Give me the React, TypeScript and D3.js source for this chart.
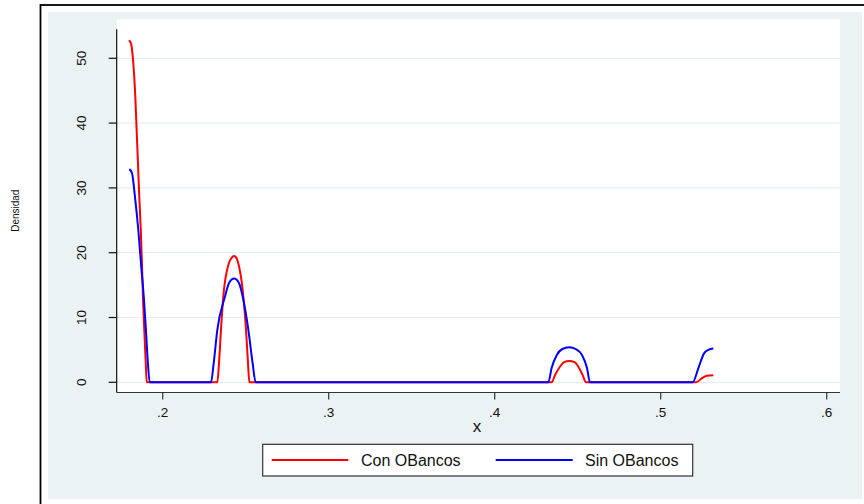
import React from "react";
import * as d3 from "d3";

const xTicks = [0.2, 0.3, 0.4, 0.5, 0.6];
const xTickLabels = [".2", ".3", ".4", ".5", ".6"];
const yTicks = [0, 10, 20, 30, 40, 50];
const seriesNames = ["Con OBancos", "Sin OBancos"];
const seriesColors = ["#ff0000", "#0000ff"];

const conX = [0.1797, 0.1809, 0.1823, 0.1835, 0.1843, 0.1851, 0.1859, 0.1868, 0.1875, 0.1881, 0.1889, 0.1898, 0.1904,
  0.2329, 0.2339, 0.2351, 0.2365, 0.2399, 0.2415, 0.2430, 0.2444, 0.2455, 0.2486, 0.2502, 0.2514, 0.2522,
  0.4343, 0.4363, 0.4393, 0.4418, 0.4449, 0.4481, 0.4504, 0.4530, 0.4550,
  0.5213, 0.5247, 0.5277, 0.5317];
const conY = [52.8, 52.3, 49.2, 44.1, 38.9, 33.8, 28.6, 23.5, 18.4, 13.2, 8.1, 2.9, 0,
  0, 2.9, 8.1, 13.2, 18.4, 19.2, 19.5, 19.2, 18.4, 13.2, 8.1, 2.9, 0,
  0, 1.1, 2.4, 3.1, 3.3, 3.1, 2.4, 1.1, 0,
  0, 0.6, 1.0, 1.1];

const sinX = [0.1799, 0.1815, 0.1833, 0.1853, 0.1869, 0.1886, 0.1899, 0.1911, 0.1922,
  0.2291, 0.2307, 0.2329, 0.2375, 0.2399, 0.2430, 0.2460, 0.2482, 0.2516, 0.2542, 0.2560,
  0.4323, 0.4343, 0.4374, 0.4405, 0.4449, 0.4490, 0.4526, 0.4556, 0.4574,
  0.5193, 0.5227, 0.5262, 0.5287, 0.5317];
const sinY = [32.9, 32.3, 28.6, 23.5, 18.4, 13.2, 8.1, 2.9, 0,
  0, 2.9, 8.1, 13.2, 15.3, 16.0, 15.3, 13.2, 8.1, 2.9, 0,
  0, 2.2, 4.2, 5.1, 5.4, 5.1, 4.2, 2.2, 0,
  0, 2.2, 4.5, 5.0, 5.2];

export default function App() {
  const x = d3.scaleLinear().domain([0.2, 0.6]).range([162.7, 826.7]);
  const y = d3.scaleLinear().domain([0, 50]).range([382.3, 58.3]);
  const plotL = 116.7, plotR = 840, plotT = 19.5, plotB = 392.5;
  const line = d3.line<[number, number]>()
    .x((d) => x(d[0]))
    .y((d) => y(d[1]))
    .curve(d3.curveMonotoneX);
  const series = [
    conX.map((v, i) => [v, conY[i]] as [number, number]),
    sinX.map((v, i) => [v, sinY[i]] as [number, number]),
  ];
  const font = "'Liberation Sans', Arial, Helvetica, sans-serif";
  return (
    <svg width={864} height={504} style={{ position: "absolute", left: 0, top: 0 }} fontFamily={font}>
      <rect x={0} y={0} width={864} height={504} fill="#ffffff" />
      <rect x={48} y={12} width={814} height={487} fill="#eaf2f3" />
      <rect x={plotL} y={plotT} width={plotR - plotL} height={plotB - plotT} fill="#ffffff" />
      {yTicks.map((t) => (
        <line key={"g" + t} x1={plotL} x2={plotR} y1={y(t)} y2={y(t)} stroke="#e6eef1" strokeWidth={1.2} />
      ))}
      {series.map((s, i) => (
        <path key={"s" + i} d={line(s) || ""} fill="none" stroke={seriesColors[i]} strokeWidth={2} />
      ))}
      <line x1={plotL} x2={plotL} y1={29.3} y2={plotB} stroke="#111" strokeWidth={1.2} />
      <line x1={plotL} x2={plotR} y1={plotB} y2={plotB} stroke="#333" strokeWidth={1.2} />
      {yTicks.map((t) => (
        <g key={"yt" + t}>
          <line x1={plotL - 8} x2={plotL} y1={y(t)} y2={y(t)} stroke="#111" strokeWidth={1.2} />
          <text transform={`translate(81.7,${y(t)}) rotate(-90)`} textAnchor="middle" dy="0.35em" fontSize={13.5} fill="#111">{t}</text>
        </g>
      ))}
      {xTicks.map((t, i) => (
        <g key={"xt" + t}>
          <line x1={x(t)} x2={x(t)} y1={plotB} y2={plotB + 7} stroke="#333" strokeWidth={1.2} />
          <text x={x(t)} y={417} textAnchor="middle" fontSize={13.5} fill="#111">{xTickLabels[i]}</text>
        </g>
      ))}
      <text x={477} y={432} textAnchor="middle" fontSize={17} fill="#111">x</text>
      <text transform="translate(15,210.7) rotate(-90)" textAnchor="middle" dy="0.35em" fontSize={10} fill="#111">Densidad</text>
      <rect x={262.7} y={444.3} width={430} height={31.7} fill="#ffffff" stroke="#333" strokeWidth={1.2} />
      <line x1={271.7} x2={348.3} y1={460} y2={460} stroke={seriesColors[0]} strokeWidth={2} />
      <text x={361} y={460} dy="0.35em" fontSize={16} fill="#111">{seriesNames[0]}</text>
      <line x1={495.7} x2={572.7} y1={460} y2={460} stroke={seriesColors[1]} strokeWidth={2} />
      <text x={585} y={460} dy="0.35em" fontSize={16} fill="#111">{seriesNames[1]}</text>
      <rect x={40.5} y={5} width={900} height={600} fill="none" stroke="#000" strokeWidth={1.8} />
    </svg>
  );
}
